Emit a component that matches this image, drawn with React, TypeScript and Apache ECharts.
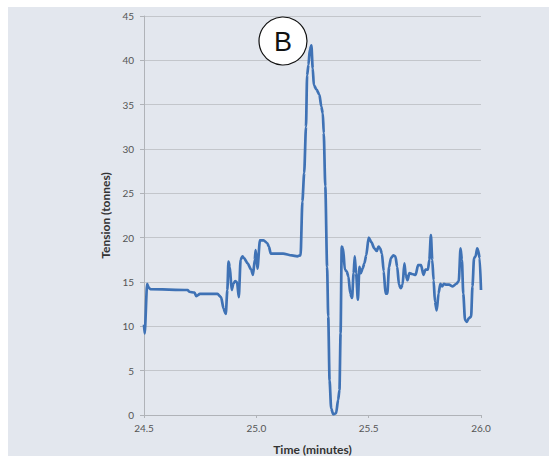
import React, { useEffect, useRef } from "react";
import * as echarts from "echarts";

const times: number[] = [
  24.5, 24.503, 24.514, 24.52, 24.528, 24.694, 24.701, 24.725, 24.733, 24.749,
  24.827, 24.843, 24.854, 24.864, 24.871, 24.876, 24.882, 24.89, 24.898, 24.906,
  24.914, 24.922, 24.93, 24.938, 24.945, 24.961, 24.977, 24.985, 24.993, 24.997,
  25.005, 25.016, 25.032, 25.048, 25.056, 25.064, 25.079, 25.119, 25.158, 25.182,
  25.197, 25.205, 25.213, 25.221, 25.226, 25.232, 25.238, 25.245, 25.251, 25.256,
  25.268, 25.281, 25.289, 25.296, 25.3, 25.307, 25.315, 25.32, 25.326, 25.333,
  25.342, 25.355, 25.364, 25.37, 25.375, 25.38, 25.386, 25.394, 25.402, 25.41,
  25.418, 25.426, 25.433, 25.438, 25.444, 25.452, 25.459, 25.465, 25.473, 25.481,
  25.489, 25.5, 25.512, 25.525, 25.536, 25.544, 25.551, 25.559, 25.567, 25.575,
  25.583, 25.591, 25.599, 25.61, 25.619, 25.627, 25.635, 25.643, 25.651, 25.659,
  25.665, 25.673, 25.681, 25.693, 25.709, 25.72, 25.733, 25.744, 25.753, 25.764,
  25.77, 25.777, 25.783, 25.789, 25.795, 25.803, 25.811, 25.819, 25.827, 25.835,
  25.843, 25.858, 25.874, 25.89, 25.901, 25.909, 25.915, 25.921, 25.929, 25.937,
  25.945, 25.956, 25.962, 25.969, 25.976, 25.983, 25.987, 25.994, 26.0,
];

const tension: number[] = [
  10.2, 9.2, 14.8, 14.4, 14.2, 14.1, 13.9, 13.8, 13.4, 13.65,
  13.65, 13.3, 12.0, 11.4, 14.1, 17.3, 16.7, 14.1, 14.8, 15.1,
  15.0, 13.3, 17.5, 17.9, 17.7, 17.1, 16.4, 15.8, 17.5, 18.6,
  16.5, 19.7, 19.7, 19.4, 19.0, 18.2, 18.2, 18.2, 18.0, 17.9,
  18.0, 24.1, 27.3, 32.5, 38.3, 39.5, 41.2, 41.7, 39.1, 37.2,
  36.7, 36.1, 34.8, 34.0, 31.8, 25.8, 16.7, 11.1, 3.9, 0.75,
  0.1, 0.2, 1.7, 2.8, 9.2, 19.0, 18.8, 16.4, 16.2, 15.6,
  13.7, 13.2, 16.0, 17.9, 16.0, 13.0, 16.7, 16.0, 16.5, 17.1,
  18.0, 20.0, 19.5, 18.8, 18.5, 19.0, 18.8, 18.2, 16.2, 13.7,
  13.7, 16.7, 17.7, 18.0, 17.9, 16.7, 14.7, 14.3, 14.7, 17.1,
  15.8, 15.2, 16.0, 15.9, 15.8, 16.9, 16.9, 15.8, 16.4, 16.4,
  17.5, 20.3, 17.5, 15.2, 12.8, 11.8, 13.7, 14.8, 14.5, 14.8,
  14.7, 14.7, 14.5, 14.8, 15.1, 18.8, 17.5, 13.7, 10.7, 10.5,
  10.9, 11.1, 14.5, 17.7, 17.9, 18.8, 18.6, 17.7, 14.1,
];

const xTicks = { min: 24.5, max: 26.0, interval: 0.5 };
const yTicks = { min: 0, max: 45, interval: 5 };
const annotation = "B";

export default function App() {
  const ref = useRef<HTMLDivElement>(null);
  useEffect(() => {
    if (!ref.current) return;
    const chart = echarts.init(ref.current, null, { renderer: "svg" });
    const font = "Lato, 'Open Sans', sans-serif";
    chart.setOption({
      animation: false,
      backgroundColor: "#ffffff",
      grid: { left: 144, top: 16, width: 337, height: 399 },
      graphic: [
        {
          type: "rect",
          z: -10,
          silent: true,
          shape: { x: 8, y: 7, width: 541, height: 449 },
          style: { fill: "#e3e7ee" },
        },
        {
          type: "circle",
          z: 100,
          shape: { cx: 283, cy: 41, r: 24 },
          style: { fill: "#ffffff", stroke: "#111111", lineWidth: 1.2 },
        },
        {
          type: "text",
          z: 101,
          x: 283,
          y: 42,
          style: {
            text: annotation,
            fontFamily: "'Liberation Sans', Arial, sans-serif",
            fontSize: 27,
            fill: "#111111",
            align: "center",
            verticalAlign: "middle",
          },
        },
      ],
      xAxis: {
        type: "value",
        min: xTicks.min,
        max: xTicks.max,
        interval: xTicks.interval,
        name: "Time (minutes)",
        nameLocation: "middle",
        nameGap: 28,
        nameTextStyle: { fontFamily: font, fontWeight: "bold", fontSize: 12, color: "#333" },
        axisLine: { show: true, lineStyle: { color: "#b0b3b8", width: 1 } },
        axisTick: { show: true, length: 3, lineStyle: { color: "#b0b3b8" } },
        axisLabel: {
          fontFamily: font,
          fontSize: 10,
          color: "#555",
          margin: 8,
          formatter: (v: number) => v.toFixed(1),
        },
        splitLine: { show: false },
      },
      yAxis: {
        type: "value",
        min: yTicks.min,
        max: yTicks.max,
        interval: yTicks.interval,
        name: "Tension (tonnes)",
        nameLocation: "middle",
        nameGap: 30,
        nameRotate: 90,
        nameTextStyle: { fontFamily: font, fontWeight: "bold", fontSize: 12, color: "#333" },
        axisLine: { show: true, lineStyle: { color: "#b0b3b8", width: 1 } },
        axisTick: { show: true, length: 4, lineStyle: { color: "#b0b3b8" } },
        axisLabel: { fontFamily: font, fontSize: 10, color: "#555", margin: 10 },
        splitLine: { show: true, lineStyle: { color: "#c3c6cb", width: 1 } },
      },
      series: [
        {
          type: "line",
          data: times.map((t, i) => [t, tension[i]]),
          showSymbol: false,
          symbol: "none",
          smooth: 0.25,
          smoothMonotone: "x",
          lineStyle: { color: "#3f72b5", width: 2.7 },
          z: 5,
        },
      ],
    });
    return () => chart.dispose();
  }, []);
  return (
    <div
      ref={ref}
      style={{ position: "fixed", left: 0, top: 0, width: 555, height: 461 }}
    />
  );
}
